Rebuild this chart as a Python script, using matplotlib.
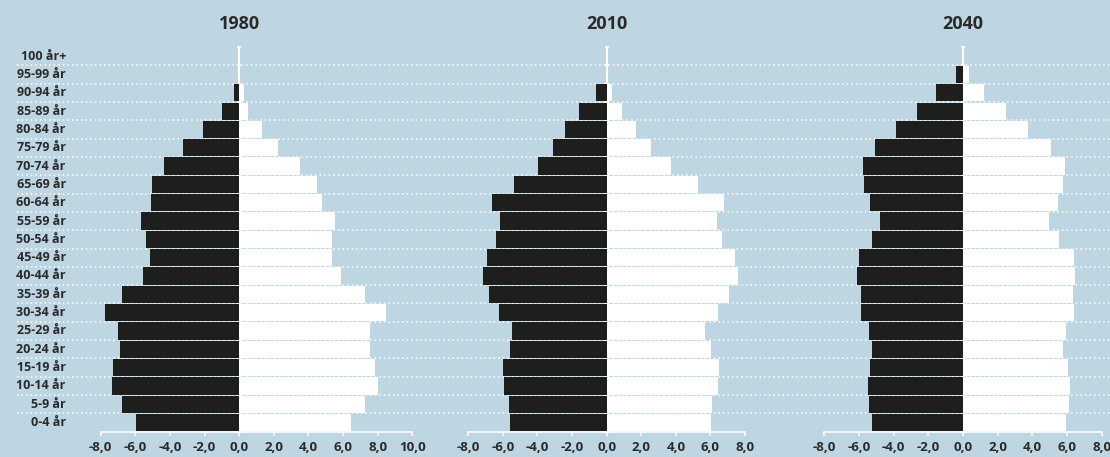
import numpy as np
import matplotlib.pyplot as plt
from matplotlib.ticker import FuncFormatter

# ------------------------------------------------------------
# Data: share of population (%) per age group, 0-4 år first
# ------------------------------------------------------------
aldrar = ["0-4 år", "5-9 år", "10-14 år", "15-19 år", "20-24 år", "25-29 år",
          "30-34 år", "35-39 år", "40-44 år", "45-49 år", "50-54 år", "55-59 år",
          "60-64 år", "65-69 år", "70-74 år", "75-79 år", "80-84 år", "85-89 år",
          "90-94 år", "95-99 år", "100 år+"]

ar = ["1980", "2010", "2040"]

# left side (black) and right side (white)
vanster_1980 = [5.95, 6.76, 7.34, 7.28, 6.88, 6.99, 7.75, 6.76, 5.55, 5.14, 5.38,
                5.66, 5.09, 5.03, 4.34, 3.24, 2.08, 0.98, 0.29, 0.0, 0.0]
hoger_1980 = [6.47, 7.28, 8.03, 7.86, 7.57, 7.57, 8.50, 7.28, 5.90, 5.38, 5.38,
              5.55, 4.80, 4.51, 3.53, 2.25, 1.33, 0.52, 0.29, 0.0, 0.0]

vanster_2010 = [5.61, 5.66, 5.95, 6.01, 5.61, 5.49, 6.24, 6.82, 7.17, 6.94, 6.42,
                6.19, 6.65, 5.38, 3.99, 3.12, 2.43, 1.62, 0.64, 0.0, 0.0]
hoger_2010 = [6.01, 6.07, 6.42, 6.47, 6.01, 5.66, 6.42, 7.05, 7.57, 7.40, 6.65,
              6.36, 6.76, 5.26, 3.70, 2.54, 1.68, 0.87, 0.29, 0.0, 0.0]

vanster_2040 = [5.25, 5.42, 5.48, 5.37, 5.25, 5.42, 5.88, 5.88, 6.12, 6.00, 5.25,
                4.79, 5.37, 5.71, 5.77, 5.08, 3.87, 2.65, 1.56, 0.40, 0.0]
hoger_2040 = [5.94, 6.12, 6.17, 6.06, 5.77, 5.94, 6.40, 6.35, 6.46, 6.40, 5.54,
              4.96, 5.48, 5.77, 5.88, 5.08, 3.75, 2.48, 1.21, 0.35, 0.0]

xgranser = [(-8, 10), (-8, 8), (-8, 8)]

# ------------------------------------------------------------
# Style
# ------------------------------------------------------------
BG = "#bed5e2"
SVART = "#1e1e1c"
TEXT = "#2a2a2a"
plt.rcParams["font.family"] = ["Open Sans", "DejaVu Sans"]

fig = plt.figure(figsize=(11.1, 4.57), dpi=100, facecolor=BG)

bottom = 1 - 431.7 / 457
top = 1 - 47 / 457
height = top - bottom
n = len(aldrar)
y = np.arange(n)

# dotted row separators across the whole figure
bg_ax = fig.add_axes([17 / 1110, bottom, 1 - 17 / 1110, height], zorder=0)
bg_ax.set_ylim(-0.5, n - 0.5)
bg_ax.set_xlim(0, 1)
bg_ax.axis("off")
for yy in np.arange(0.5, n - 1, 1.0):
    bg_ax.axhline(yy, color="white", lw=1.1, ls=(0, (1, 2)))

positions = [(100.7, 412.3), (468.3, 745.0), (824.3, 1101.7)]
serier = [(vanster_1980, hoger_1980), (vanster_2010, hoger_2010),
          (vanster_2040, hoger_2040)]

fmt = FuncFormatter(lambda v, p: f"{v:.1f}".replace(".", ","))

for i, (titel, (vanster, hoger), (x0, x1), xlim) in enumerate(
        zip(ar, serier, positions, xgranser)):
    ax = fig.add_axes([x0 / 1110, bottom, (x1 - x0) / 1110, height], zorder=1)
    ax.patch.set_visible(False)
    ax.set_xlim(*xlim)
    ax.set_ylim(-0.5, n - 0.5)

    ax.barh(y, -np.array(vanster), height=0.94, color=SVART, zorder=2)
    ax.barh(y, hoger, height=0.94, color="white", zorder=2)

    for s in ["top", "right"]:
        ax.spines[s].set_visible(False)
    ax.spines["left"].set_position(("data", 0))
    ax.spines["left"].set_color("white")
    ax.spines["left"].set_linewidth(1.5)
    ax.spines["left"].set_zorder(1.5)
    ax.spines["bottom"].set_color("white")
    ax.spines["bottom"].set_linewidth(1.2)

    ax.set_yticks(np.arange(-0.5, n, 1.0))
    ax.tick_params(axis="y", length=3, width=1.5, color="white",
                   direction="inout", labelleft=False)
    ax.yaxis.set_zorder(1.5)

    ax.set_xticks(np.arange(xlim[0], xlim[1] + 1, 2))
    ax.xaxis.set_major_formatter(fmt)
    ax.tick_params(axis="x", length=3, width=1.2, color="white", pad=4,
                   labelsize=9.5, labelcolor=TEXT)
    for lab in ax.get_xticklabels():
        lab.set_fontweight("bold")

    ax.text(0, n - 0.5 + 1.25, titel, ha="center", va="center",
            fontsize=13, fontweight="bold", color=TEXT)

    if i == 0:
        for yy, namn in zip(y, aldrar):
            ax.text(-0.112, yy, namn, transform=ax.get_yaxis_transform(),
                    ha="right", va="center", fontsize=9, fontweight="bold",
                    color=TEXT)

fig.savefig("out.png", dpi=100, facecolor=BG)
